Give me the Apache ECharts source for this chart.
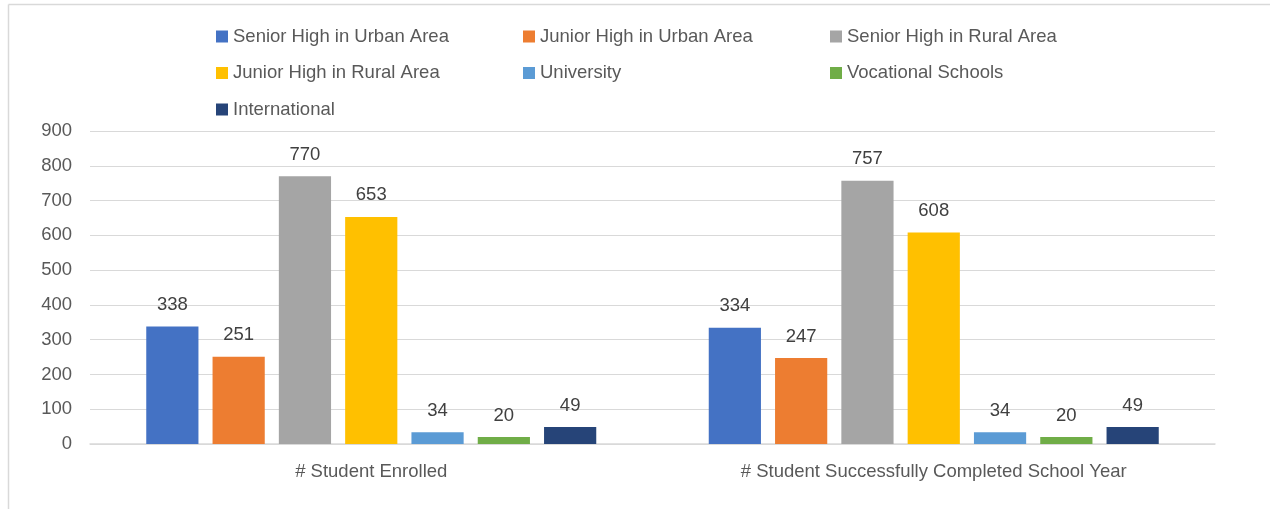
<!DOCTYPE html>
<html><head><meta charset="utf-8">
<script src="https://cdn.jsdelivr.net/npm/echarts@6/dist/echarts.min.js"></script>
<style>html,body{margin:0;padding:0;background:#fff}#c{width:1270px;height:509px}</style>
</head><body><div id="c"></div>
<script>
const categories = ['# Student Enrolled', '# Student Successfully Completed School Year'];
const seriesNames = ['Senior High in Urban Area','Junior High in Urban Area','Senior High in Rural Area','Junior High in Rural Area','University','Vocational Schools','International'];
const seniorUrban = [338, 334];
const juniorUrban = [251, 247];
const seniorRural = [770, 757];
const juniorRural = [653, 608];
const university = [34, 34];
const vocational = [20, 20];
const international = [49, 49];
const colors = ['#4472C4','#ED7D31','#A5A5A5','#FFC000','#5B9BD5','#70AD47','#264478'];
const values = [seniorUrban, juniorUrban, seniorRural, juniorRural, university, vocational, international];

const font = 'Liberation Sans';
const fs = 18.5;
const legendBase = {orient:'vertical', itemWidth:12, itemHeight:12, itemGap:17.5, icon:'rect', padding:0,
  textStyle:{fontFamily:font, fontSize:fs, color:'#595959'}};
const chart = echarts.init(document.getElementById('c'));
chart.setOption({
  animation:false,
  color: colors,
  legend: [
    Object.assign({left:216, top:27, data:[seriesNames[0], seriesNames[3], seriesNames[6]]}, legendBase),
    Object.assign({left:523, top:27, data:[seriesNames[1], seriesNames[4]]}, legendBase),
    Object.assign({left:830, top:27, data:[seriesNames[2], seriesNames[5]]}, legendBase)
  ],
  grid:{left:90, right:55, top:131, bottom:65},
  xAxis:{type:'category', data:categories,
    axisLine:{lineStyle:{color:'#D9D9D9', width:1.5}}, axisTick:{show:false},
    axisLabel:{fontFamily:font, fontSize:fs, color:'#595959', margin:18}},
  yAxis:{type:'value', min:0, max:900, interval:100,
    axisLine:{show:false}, axisTick:{show:false},
    splitLine:{lineStyle:{color:'#D9D9D9', width:1.2}},
    axisLabel:{fontFamily:font, fontSize:fs, color:'#595959', margin:18}},
  series: seriesNames.map((n,i)=>({
    name:n, type:'bar', data:values[i], barGap:'27%', barCategoryGap:'20%',
    label:{show:true, position:'top', distance:12, fontFamily:font, fontSize:fs, color:'#404040'}
  })),
  graphic:[
    {type:'line', shape:{x1:8.5,y1:4.5,x2:1270,y2:4.5}, style:{stroke:'#D9D9D9', lineWidth:1.5}},
    {type:'line', shape:{x1:8.5,y1:4.5,x2:8.5,y2:509}, style:{stroke:'#D9D9D9', lineWidth:1.5}}
  ]
});
</script></body></html>
